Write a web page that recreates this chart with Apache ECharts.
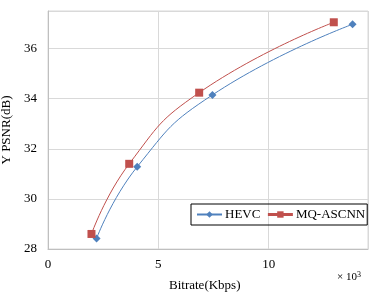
<!DOCTYPE html>
<html><head><meta charset="utf-8">
<script src="https://cdn.jsdelivr.net/npm/echarts@6/dist/echarts.min.js"></script>
<style>html,body{margin:0;padding:0;background:#fff}#c{width:374px;height:294px}</style>
</head><body><div id="c"></div>
<script>
const hevcX = [2.2, 4.04, 7.45, 13.8];
const hevcY = [28.42, 31.28, 34.15, 36.97];
const mqX = [1.97, 3.68, 6.85, 12.95];
const mqY = [28.6, 31.4, 34.24, 37.05];
const xTicks = [0, 5, 10];
const yTicks = [28, 30, 32, 34, 36];
const font = 'Liberation Serif';
const chart = echarts.init(document.getElementById('c'));
chart.setOption({
  animation: false,
  textStyle: {fontFamily: font},
  grid: {left: 48, right: 6, top: 11, bottom: 45, show: true, borderColor: '#d9d9d9', borderWidth: 1,
    containLabel: false, outerBoundsMode: 'none'},
  xAxis: {type: 'value', min: 0, max: 14.5, interval: 5,
    axisLine: {show: true, lineStyle: {color: '#bfbfbf'}}, axisTick: {show: false},
    splitLine: {lineStyle: {color: '#d9d9d9'}},
    axisLabel: {color: '#000', fontSize: 13, fontFamily: font, margin: 9, showMaxLabel: false}},
  yAxis: {type: 'value', min: 28, max: 37.5, interval: 2,
    name: 'Y PSNR(dB)', nameLocation: 'middle', nameGap: 33, nameTextStyle: {color: '#000', fontSize: 13, fontFamily: font},
    axisLine: {show: true, lineStyle: {color: '#bfbfbf'}}, axisTick: {show: false},
    splitLine: {lineStyle: {color: '#d9d9d9'}},
    axisLabel: {color: '#000', fontSize: 13, fontFamily: font, margin: 11, showMaxLabel: false}},
  graphic: [
    {type: 'text', left: 169, top: 279, style: {text: 'Bitrate(Kbps)', fontSize: 13, fontFamily: font, fill: '#000'}},
    {type: 'text', left: 337, top: 271, style: {text: '× 10{s|3}', fontSize: 11, fontFamily: font, fill: '#000',
      rich: {s: {fontSize: 8, fontFamily: font, fill: '#000', verticalAlign: 'top', padding: [0, 0, 5, 0]}}}}
  ],
  legend: {left: 191, top: 204, width: 177, orient: 'horizontal', borderColor: '#000', borderWidth: 1, padding: [4, 2, 4, 5],
    itemWidth: 25, itemHeight: 8, itemGap: 6,
    textStyle: {fontSize: 13, fontFamily: font, color: '#000', padding: [0, 0, 0, -2]},
    data: [{name: 'HEVC'}, {name: 'MQ-ASCNN', itemStyle: {}, lineStyle: {width: 3}}]},
  series: [
    {name: 'HEVC', type: 'line', smooth: true, symbol: 'diamond', symbolSize: 8,
      itemStyle: {color: '#4f81bd'}, lineStyle: {width: 1, color: '#4f81bd'},
      data: hevcX.map((x, i) => [x, hevcY[i]])},
    {name: 'MQ-ASCNN', type: 'line', smooth: true, symbol: 'rect', symbolSize: 8,
      itemStyle: {color: '#c0504d'}, lineStyle: {width: 1, color: '#c0504d'},
      data: mqX.map((x, i) => [x, mqY[i]])}
  ]
});
</script></body></html>
